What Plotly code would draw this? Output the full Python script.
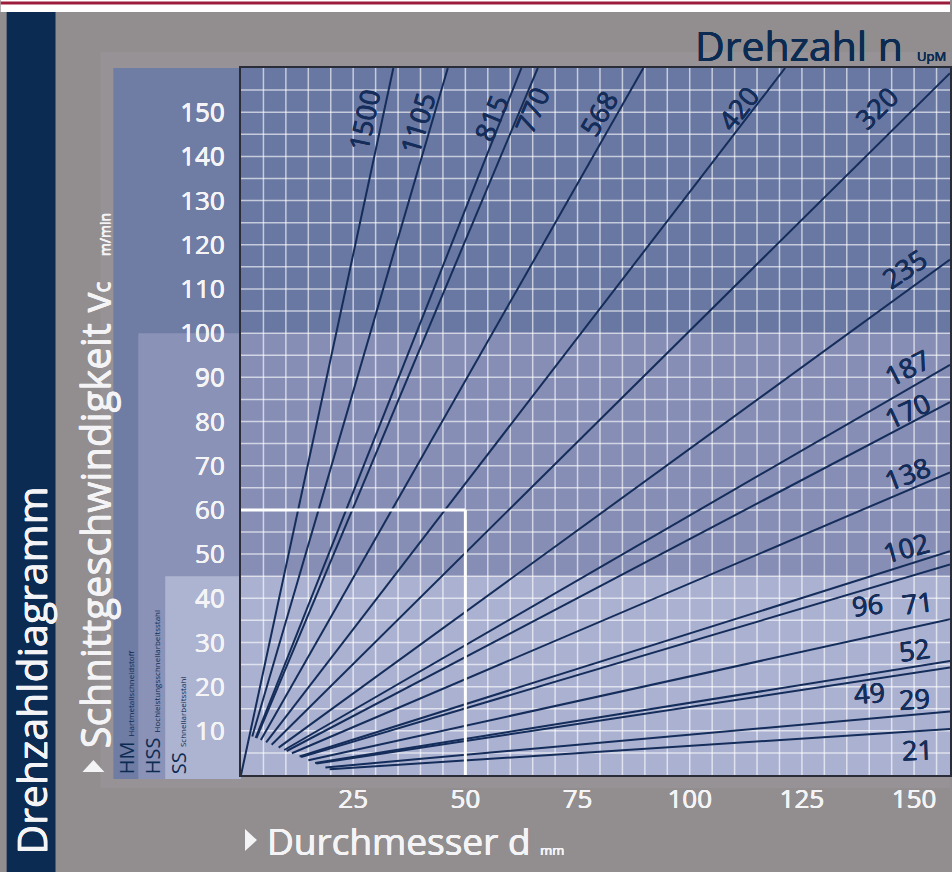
import numpy as np
import plotly.graph_objects as go

# ---- data -------------------------------------------------------------
rpm = [1500, 1105, 815, 770, 568, 420, 320, 235, 187, 170, 138, 102, 96, 71, 52, 49, 29, 21]
x_ticks = [25, 50, 75, 100, 125, 150]
y_ticks = [10, 20, 30, 40, 50, 60, 70, 80, 90, 100, 110, 120, 130, 140, 150]
example_d = 50      # worked example: diameter in mm
example_vc = 60     # worked example: cutting speed in m/min
band_hm = (100, 160)   # HM  range of v_c
band_hss = (45, 100)   # HSS range of v_c
band_ss = (0, 45)      # SS  range of v_c

# ---- label placement (d, v_c, angle) ---------------------------------
label_place = {
    1500: (27.3, 148.2, -78), 1105: (39.3, 147.7, -74), 815: (55.6, 148.6, -68),
    770: (64.9, 150.5, -67), 568: (79.6, 149.8, -60), 420: (110.7, 150.9, -52),
    320: (141.6, 151.1, -44), 235: (147.8, 114.7, -34), 187: (148.4, 92.3, -27),
    170: (148.4, 82.6, -25), 138: (148.4, 68.3, -21), 102: (148.2, 51.4, -15),
    96: (139.6, 38.5, -7), 71: (150.7, 39.1, -7), 52: (150.0, 28.3, -8),
    49: (140.0, 18.6, -4), 29: (150.0, 17.4, -4), 21: (150.7, 5.7, -2),
}

# ---- geometry ---------------------------------------------------------
W, H = 952, 872
PL, PR, PT, PB = 241, 952, 68, 775
D_MAX, V_MAX = 158, 160

def xp(px):
    return (px - PL) / (PR - PL)

def yp(py):
    return (PB - py) / (PB - PT)

def tri(pts, color):
    path = "M " + " L ".join(f"{xp(a):.5f},{yp(b):.5f}" for a, b in pts) + " Z"
    return dict(type="path", xref="paper", yref="paper", path=path,
                fillcolor=color, line_width=0, layer="above")

def heavy(c, w=0.4):
    # slight text-shadow to give the glyphs a medium weight
    return f"{w}px 0 0 {c}, -{w}px 0 0 {c}, 0 {w * 0.7:.2f}px 0 {c}"

NAVY = "#0c2b52"
LINE = "#152d5a"
GRAY = "#928e8f"
TXT = "#f4f4f6"
FONT = "Open Sans"

fig = go.Figure()

# speed lines v = pi * d * n / 1000, fanned out from a short chord near the origin
for n in rpm:
    k = np.pi * n / 1000.0
    if n == max(rpm):
        d0 = 0.0
    else:
        d0 = 9.8 / (k + 0.43)
    d1 = min(D_MAX, V_MAX / k)
    d = np.array([d0, d1])
    fig.add_trace(go.Scatter(x=d, y=k * d, mode="lines",
                             line=dict(color=LINE, width=2), hoverinfo="skip",
                             showlegend=False))

# worked example: 60 m/min at 50 mm
fig.add_trace(go.Scatter(x=[0, example_d], y=[example_vc, example_vc], mode="lines",
                         line=dict(color="white", width=3), hoverinfo="skip",
                         showlegend=False))
fig.add_trace(go.Scatter(x=[example_d, example_d], y=[example_vc, 0], mode="lines",
                         line=dict(color="white", width=3), hoverinfo="skip",
                         showlegend=False))

shapes = []
# outer frame pieces
shapes.append(dict(type="rect", xref="paper", yref="paper", x0=xp(0), x1=xp(W),
                   y0=yp(12), y1=yp(0), fillcolor="white", line_width=0, layer="below"))
shapes.append(dict(type="rect", xref="paper", yref="paper", x0=xp(0), x1=xp(W),
                   y0=yp(4.5), y1=yp(1.5), fillcolor="#9c1c3b", line_width=0, layer="below"))
shapes.append(dict(type="rect", xref="paper", yref="paper", x0=xp(6), x1=xp(55),
                   y0=yp(H), y1=yp(12), fillcolor=NAVY, line_width=0, layer="below"))
shapes.append(dict(type="rect", xref="paper", yref="paper", x0=xp(100), x1=xp(W),
                   y0=yp(788), y1=yp(52), fillcolor="#969296", line_width=0, layer="below"))

# material panels left of the plot
shapes.append(dict(type="rect", xref="paper", yref="paper", x0=xp(113), x1=xp(PL),
                   y0=yp(779), y1=yp(PT), fillcolor="#6f7ca4", line_width=0, layer="below"))
shapes.append(dict(type="rect", xref="paper", yref="paper", x0=xp(138), x1=xp(PL),
                   y0=yp(779), y1=yp(PB - band_hss[1] * (PB - PT) / V_MAX),
                   fillcolor="#8a92b7", line_width=0, layer="below"))
shapes.append(dict(type="rect", xref="paper", yref="paper", x0=xp(165), x1=xp(PL),
                   y0=yp(779), y1=yp(PB - band_ss[1] * (PB - PT) / V_MAX),
                   fillcolor="#adb4d1", line_width=0, layer="below"))

# coloured bands inside the plot
for (lo, hi), col in [(band_hm, "#6978a2"), (band_hss, "#868eb5"), (band_ss, "#abb2d1")]:
    shapes.append(dict(type="rect", xref="x", yref="y", x0=0, x1=D_MAX, y0=lo, y1=hi,
                       fillcolor=col, line_width=0, layer="below"))

# grid every 5 units in both directions
GRID = "rgba(255,255,255,0.62)"
for g in range(5, D_MAX, 5):
    shapes.append(dict(type="line", xref="x", yref="y", x0=g, x1=g, y0=0, y1=V_MAX,
                       line=dict(color=GRID, width=1.5), layer="below"))
for g in range(5, V_MAX, 5):
    shapes.append(dict(type="line", xref="x", yref="y", x0=0, x1=D_MAX, y0=g, y1=g,
                       line=dict(color=GRID, width=1.5), layer="below"))

# small pointer triangles in front of the axis titles
shapes.append(tri([(245, 829), (245, 851), (257, 840)], TXT))
shapes.append(tri([(82, 772), (104, 772), (93, 760)], TXT))

annotations = []
for n in rpm:
    d, v, ang = label_place[n]
    annotations.append(dict(x=d, y=v, xref="x", yref="y", text=str(n), showarrow=False,
                            textangle=ang,
                            font=dict(family=FONT, size=27, color=LINE, shadow=heavy(LINE))))

annotations += [
    dict(x=xp(30), y=yp(857), xref="paper", yref="paper", text="Drehzahldiagramm",
         textangle=-90, showarrow=False, xanchor="center", yanchor="bottom",
         font=dict(family=FONT, size=41, color=TXT, shadow=heavy(TXT))),
    dict(x=xp(94), y=yp(750), xref="paper", yref="paper",
         text="Schnittgeschwindigkeit v<span style='font-size:23px'>c</span>"
              "<span style='font-size:14px'>       m/min</span>",
         textangle=-90, showarrow=False, xanchor="center", yanchor="bottom",
         font=dict(family=FONT, size=40, color=TXT, shadow=heavy(TXT, 0.3))),
    dict(x=xp(265), y=yp(840), xref="paper", yref="paper",
         text="Durchmesser d <span style='font-size:13px'>mm</span>",
         showarrow=False, xanchor="left", yanchor="middle",
         font=dict(family=FONT, size=37, color=TXT, shadow=heavy(TXT, 0.3))),
    dict(x=xp(694), y=yp(45), xref="paper", yref="paper",
         text="Drehzahl n <span style='font-size:13px'> UpM</span>",
         showarrow=False, xanchor="left", yanchor="middle",
         font=dict(family=FONT, size=41, color=NAVY, shadow=heavy(NAVY, 0.3))),
    dict(x=xp(126), y=yp(776), xref="paper", yref="paper",
         text="HM <span style='font-size:8px'>Hartmetallschneidstoff</span>",
         textangle=-90, showarrow=False, xanchor="center", yanchor="bottom",
         font=dict(family=FONT, size=20, color=NAVY)),
    dict(x=xp(152), y=yp(776), xref="paper", yref="paper",
         text="HSS <span style='font-size:8px'>Hochleistungsschnellarbeitsstahl</span>",
         textangle=-90, showarrow=False, xanchor="center", yanchor="bottom",
         font=dict(family=FONT, size=20, color=NAVY)),
    dict(x=xp(178), y=yp(776), xref="paper", yref="paper",
         text="SS <span style='font-size:8px'>Schnellarbeitsstahl</span>",
         textangle=-90, showarrow=False, xanchor="center", yanchor="bottom",
         font=dict(family=FONT, size=20, color=NAVY)),
]

axis = dict(showgrid=False, zeroline=False, showline=True, linecolor="#2a2c38",
            linewidth=2, mirror=True, ticks="", fixedrange=True)

fig.update_layout(
    width=W, height=H,
    margin=dict(l=PL, r=W - PR, t=PT, b=H - PB),
    paper_bgcolor=GRAY, plot_bgcolor="rgba(0,0,0,0)",
    shapes=shapes, annotations=annotations, showlegend=False,
    xaxis=dict(range=[0, D_MAX], tickmode="array", tickvals=x_ticks,
               ticktext=[str(t) for t in x_ticks], ticklabelstandoff=0,
               tickfont=dict(family=FONT, size=26, color=TXT, shadow=heavy(TXT, 0.3)), **axis),
    yaxis=dict(range=[0, V_MAX], tickmode="array", tickvals=y_ticks,
               ticktext=[str(t) for t in y_ticks], ticklabelstandoff=9,
               tickfont=dict(family=FONT, size=26, color=TXT, shadow=heavy(TXT, 0.3)), **axis),
)

fig.write_html("out.html")
